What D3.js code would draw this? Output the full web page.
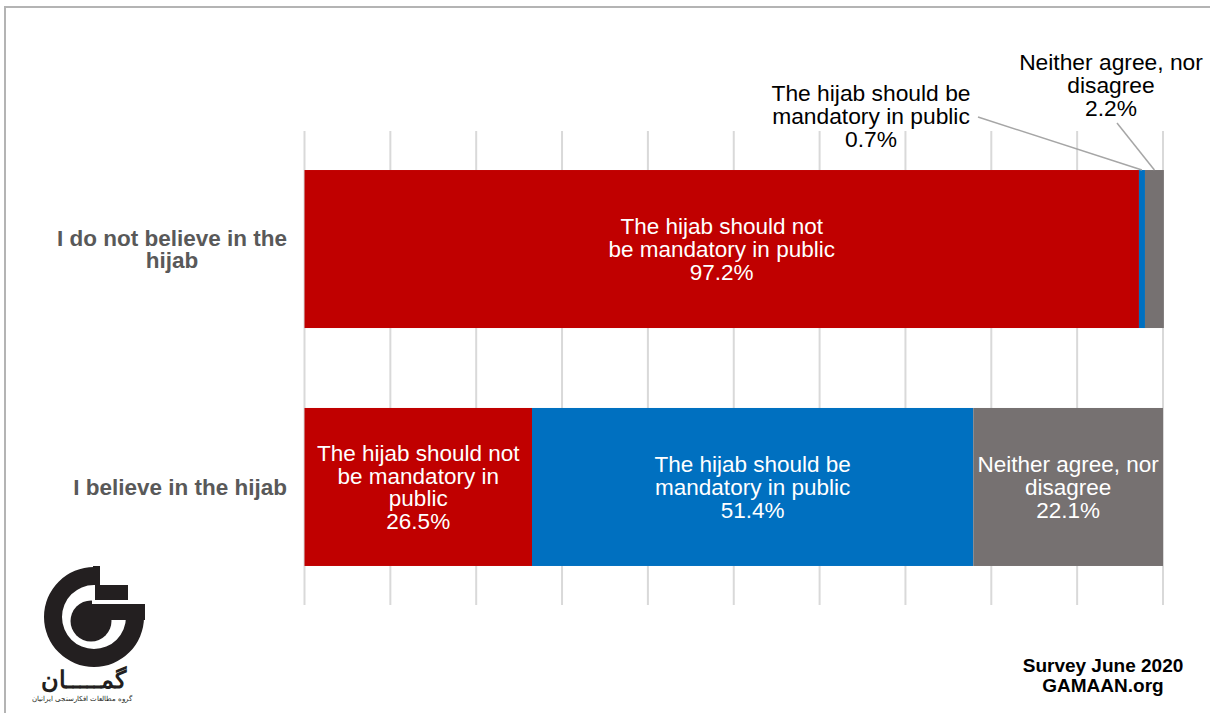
<!DOCTYPE html>
<html>
<head>
<meta charset="utf-8">
<script src="https://cdn.jsdelivr.net/npm/d3@7"></script>
<style>
  html, body { margin: 0; padding: 0; background: #fff; }
  svg { display: block; }
  text { font-family: "Liberation Sans", Arial, Helvetica, sans-serif; }
</style>
</head>
<body>
<svg id="chart" width="1210" height="713"></svg>
<script>
// ---- data ----
const categories = ["I do not believe in the hijab", "I believe in the hijab"];
const categoryLines = [["I do not believe in the", "hijab"], ["I believe in the hijab"]];
const seriesNames = [
  "The hijab should not be mandatory in public",
  "The hijab should be mandatory in public",
  "Neither agree, nor disagree"
];
const notMandatory = [97.2, 26.5];
const mandatory = [0.7, 51.4];
const neither = [2.2, 22.1];
const xTicks = [0, 10, 20, 30, 40, 50, 60, 70, 80, 90, 100];
const colors = ["#c00000", "#0070c0", "#767171"];

// wrapped label text for each segment: [category][series]
const segmentLines = [
  [["The hijab should not", "be mandatory in public"],
   ["The hijab should be", "mandatory in public"],
   ["Neither agree, nor", "disagree"]],
  [["The hijab should not", "be mandatory in", "public"],
   ["The hijab should be", "mandatory in public"],
   ["Neither agree, nor", "disagree"]]
];

const seriesValues = [notMandatory, mandatory, neither];

const svg = d3.select("#chart");

// frame
svg.append("rect")
  .attr("x", 5).attr("y", 7).attr("width", 1220).attr("height", 720)
  .attr("fill", "none").attr("stroke", "#b4b4b4").attr("stroke-width", 2);

const x = d3.scaleLinear().domain([0, 100]).range([304.5, 1163]);
const y = d3.scaleBand().domain(categories).range([131, 605])
  .paddingInner(0.336).paddingOuter(0.164);

// vertical gridlines
svg.append("g").selectAll("line").data(xTicks).join("line")
  .attr("x1", d => x(d)).attr("x2", d => x(d))
  .attr("y1", 131).attr("y2", 605)
  .attr("stroke", "#d9d9d9").attr("stroke-width", 2);

// stacked segments
const segs = [];
categories.forEach((cat, ci) => {
  let acc = 0;
  seriesValues.forEach((vals, si) => {
    const v = vals[ci];
    segs.push({ cat, ci, si, x0: acc, x1: acc + v, v });
    acc += v;
  });
});

svg.append("g").selectAll("rect").data(segs).join("rect")
  .attr("x", d => x(d.x0))
  .attr("y", d => y(d.cat))
  .attr("width", d => x(d.x1) - x(d.x0))
  .attr("height", y.bandwidth())
  .attr("fill", d => colors[d.si]);

const lh = 22.7;
const fmt = v => v.toFixed(1) + "%";

function multiline(g, lines, cx, cy, opts) {
  const t = g.append("text")
    .attr("text-anchor", "middle")
    .attr("font-size", opts.size)
    .attr("fill", opts.fill)
    .attr("font-weight", opts.weight || "normal");
  const n = lines.length;
  lines.forEach((ln, i) => {
    t.append("tspan")
      .attr("x", cx)
      .attr("y", cy + (i - (n - 1) / 2) * lh)
      .attr("dy", "0.35em")
      .text(ln);
  });
  return t;
}

// labels inside wide segments
const labels = svg.append("g");
segs.forEach(d => {
  const w = x(d.x1) - x(d.x0);
  if (w < 60) return;
  const lines = segmentLines[d.ci][d.si].concat([fmt(d.v)]);
  multiline(labels, lines, (x(d.x0) + x(d.x1)) / 2, y(d.cat) + y.bandwidth() / 2,
    { size: "22.5px", fill: "#ffffff" });
});

// callouts for the narrow segments of the first bar
const callouts = [
  { si: 1, cx: 871, cy: 116, lx: 978, ly: 117 },
  { si: 2, cx: 1111, cy: 85, lx: 1117, ly: 123 }
];
callouts.forEach(c => {
  const d = segs.find(s => s.ci === 0 && s.si === c.si);
  const tx = (x(d.x0) + x(d.x1)) / 2;
  svg.append("line")
    .attr("x1", c.lx).attr("y1", c.ly)
    .attr("x2", tx).attr("y2", y(d.cat))
    .attr("stroke", "#a6a6a6").attr("stroke-width", 1.5);
  multiline(svg, segmentLines[0][c.si].concat([fmt(d.v)]), c.cx, c.cy,
    { size: "22.8px", fill: "#000000" });
});

// category labels: block right-aligned, lines centred within it
categories.forEach((cat, ci) => {
  const g = svg.append("g");
  const t = multiline(g, categoryLines[ci], 0, y(cat) + y.bandwidth() / 2,
    { size: "22.5px", fill: "#595959", weight: "bold" });
  let maxW = 0;
  t.selectAll("tspan").each(function () {
    maxW = Math.max(maxW, this.getComputedTextLength());
  });
  t.selectAll("tspan").attr("x", 287 - maxW / 2);
});

// source note
const note = svg.append("text")
  .attr("text-anchor", "middle").attr("font-size", "19px")
  .attr("font-weight", "bold").attr("fill", "#000");
note.append("tspan").attr("x", 1103).attr("y", 672).text("Survey June 2020");
note.append("tspan").attr("x", 1103).attr("y", 692).text("GAMAAN.org");

// logo
const logo = svg.append("g").attr("fill", "#231f20");
const cx = 94, cy = 617, rOut = 50, rIn = 32;
const ring = d3.arc().innerRadius(rIn).outerRadius(rOut)
  .startAngle(Math.PI / 2).endAngle(2 * Math.PI);
logo.append("path").attr("transform", `translate(${cx},${cy})`).attr("d", ring());
// inner disc
logo.append("circle").attr("cx", 91).attr("cy", 621).attr("r", 20.5);
// stepped blocks in the open quadrant
logo.append("rect").attr("x", 93).attr("y", 566).attr("width", 7).attr("height", 19);
logo.append("rect").attr("x", 95).attr("y", 585).attr("width", 33).attr("height", 15);
logo.append("rect").attr("x", 92).attr("y", 604).attr("width", 53).attr("height", 16);
// white cut between the two blocks
logo.append("rect").attr("x", 92).attr("y", 600).attr("width", 54).attr("height", 4).attr("fill", "#fff");

logo.append("text")
  .attr("x", 83).attr("y", 688)
  .attr("text-anchor", "middle")
  .attr("font-family", "'DejaVu Sans', 'Noto Sans', sans-serif")
  .attr("font-weight", "bold").attr("font-size", "24px")
  .attr("direction", "rtl")
  .text("گمـــــان");
logo.append("text")
  .attr("x", 82).attr("y", 701)
  .attr("text-anchor", "middle")
  .attr("font-family", "'DejaVu Sans', 'Noto Sans', sans-serif")
  .attr("font-size", "7.2px")
  .attr("direction", "rtl")
  .text("گروه مطالعات افکارسنجی ایرانیان");
</script>
</body>
</html>
